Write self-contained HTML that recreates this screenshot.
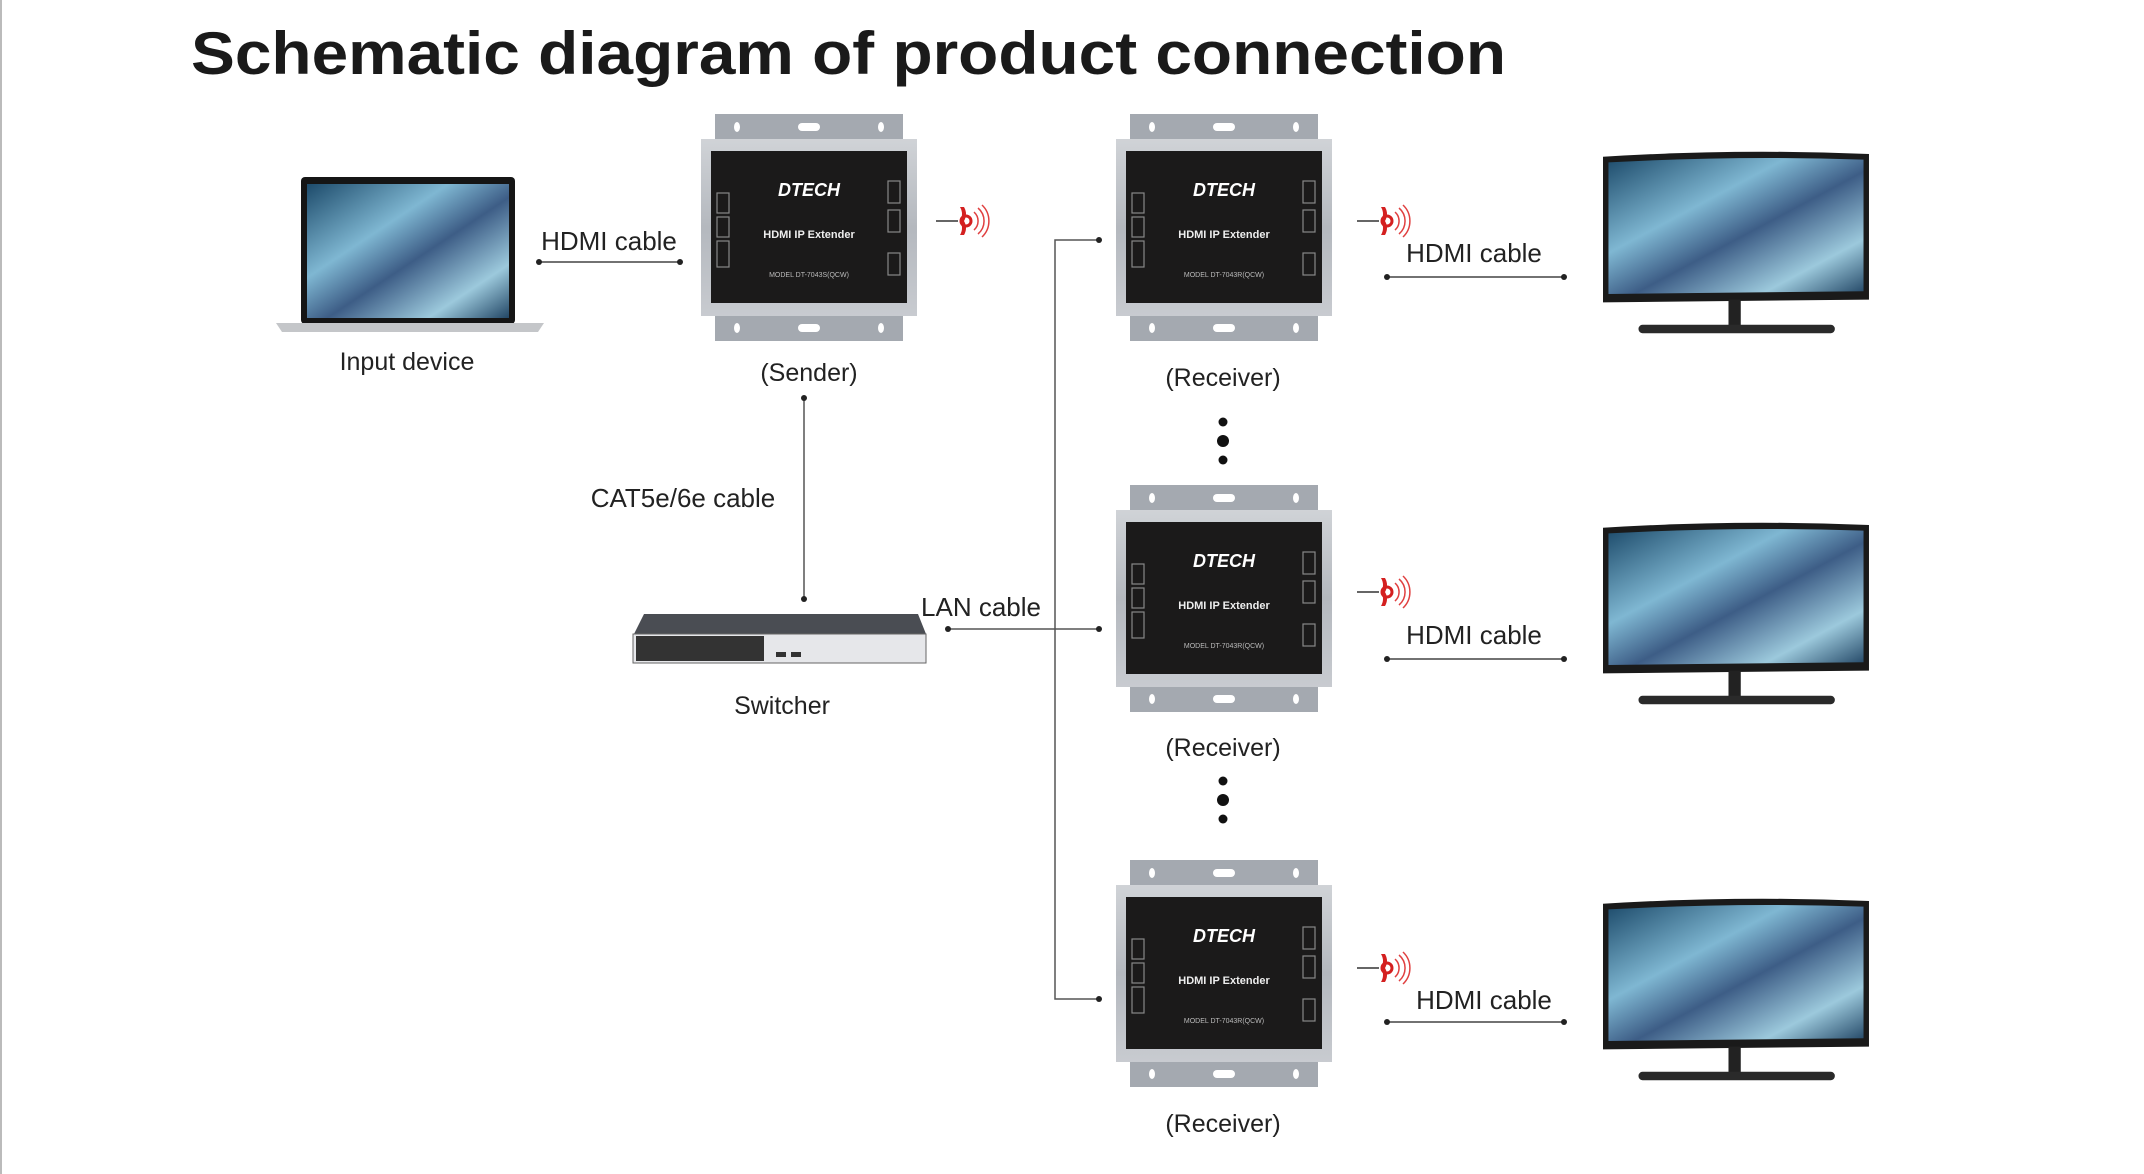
<!DOCTYPE html>
<html><head><meta charset="utf-8"><style>
html,body{margin:0;padding:0;background:#fff;}
svg{display:block;}
text{font-family:"Liberation Sans",sans-serif;}
</style></head><body>
<svg width="2144" height="1174" viewBox="0 0 2144 1174" xmlns="http://www.w3.org/2000/svg">
<defs>
<linearGradient id="scr" x1="0" y1="0" x2="1" y2="1">
<stop offset="0" stop-color="#1d4b6b"/><stop offset="0.35" stop-color="#7fb7d2"/><stop offset="0.55" stop-color="#3d5d86"/><stop offset="0.8" stop-color="#9cc9dc"/><stop offset="1" stop-color="#234766"/>
</linearGradient>
<linearGradient id="body" x1="0" y1="0" x2="0" y2="1">
<stop offset="0" stop-color="#d0d3d7"/><stop offset="0.5" stop-color="#b4b8be"/><stop offset="1" stop-color="#c8cbd0"/>
</linearGradient>
<g id="box">
<rect x="14" y="0" width="188" height="27" fill="#a4a9b0"/>
<rect x="14" y="200" width="188" height="27" fill="#a4a9b0"/>
<rect x="0" y="25" width="216" height="177" fill="url(#body)"/>
<rect x="10" y="37" width="196" height="152" fill="#1b1a1a"/>
<ellipse cx="36" cy="13" rx="3" ry="5" fill="#fff"/><ellipse cx="180" cy="13" rx="3" ry="5" fill="#fff"/><rect x="97" y="9" width="22" height="8" rx="4" fill="#fff"/>
<ellipse cx="36" cy="214" rx="3" ry="5" fill="#fff"/><ellipse cx="180" cy="214" rx="3" ry="5" fill="#fff"/><rect x="97" y="210" width="22" height="8" rx="4" fill="#fff"/>
<g fill="none" stroke="#888" stroke-width="1.2">
<rect x="16" y="79" width="12" height="20"/><rect x="16" y="103" width="12" height="20"/><rect x="16" y="127" width="12" height="26"/>
<rect x="187" y="67" width="12" height="22"/><rect x="187" y="96" width="12" height="22"/><rect x="187" y="139" width="12" height="22"/>
</g>
</g>
<g id="mon">
<path d="M0 2 Q97 -4 195 0 L195 104 L0 106 Z" fill="#1a1a1a"/>
<path d="M4 6 Q97 1 191 4 L191 98 L4 100 Z" fill="url(#scr)"/>
<rect x="92" y="104" width="9" height="22" fill="#222"/>
<rect x="26" y="122" width="144" height="6" rx="3" fill="#2a2a2a"/>
</g>
<g id="wifi">
<line x1="-30" y1="0" x2="-8" y2="0" stroke="#333" stroke-width="1.5"/>
<path d="M-6 -14 Q-2 -7 -6 0 Q-2 7 -6 14 L-2 14 Q2 7 -2 0 Q2 -7 -2 -14 Z" fill="#d42020"/>
<circle cx="0" cy="0" r="5" fill="none" stroke="#d42020" stroke-width="3"/>
<path d="M8 -9 A12 12 0 0 1 8 9 M12 -13 A17 17 0 0 1 12 13 M16 -16 A22 22 0 0 1 16 16" fill="none" stroke="#e04040" stroke-width="1.5"/>
</g>
</defs>
<line x1="1" y1="0" x2="1" y2="1174" stroke="#bbb" stroke-width="2"/>
<text x="191" y="74" font-size="60" font-weight="bold" fill="#1a1a1a" textLength="1315" lengthAdjust="spacingAndGlyphs">Schematic diagram of product connection</text>

<g transform="translate(-4,-3)">
<rect x="305" y="180" width="214" height="147" rx="4" fill="#151515"/>
<rect x="311" y="187" width="202" height="134" fill="url(#scr)"/>
<path d="M280 326 L548 326 L542 335 L286 335 Z" fill="#c4c6c9"/>
<text x="411" y="373" font-size="25" text-anchor="middle" fill="#222">Input device</text>

<text x="613" y="253" font-size="26" text-anchor="middle" fill="#222">HDMI cable</text>
<line x1="543" y1="265" x2="684" y2="265" stroke="#444" stroke-width="1.5"/>
<circle cx="543" cy="265" r="3" fill="#222"/><circle cx="684" cy="265" r="3" fill="#222"/>

<use href="#box" x="705" y="117"/>
<text x="813" y="199" font-size="18" font-weight="bold" font-style="italic" fill="#fff" text-anchor="middle">DTECH</text>
<text x="813" y="241" font-size="11" font-weight="bold" fill="#eee" text-anchor="middle">HDMI IP Extender</text>
<text x="813" y="280" font-size="7" fill="#bbb" text-anchor="middle">MODEL DT-7043S(QCW)</text>
<use href="#wifi" x="970" y="224"/>
<text x="813" y="384" font-size="25" text-anchor="middle" fill="#222">(Sender)</text>

<line x1="808" y1="401" x2="808" y2="602" stroke="#555" stroke-width="1.5"/>
<circle cx="808" cy="401" r="3" fill="#222"/><circle cx="808" cy="602" r="3" fill="#222"/>
<text x="687" y="510" font-size="26" text-anchor="middle" fill="#222">CAT5e/6e cable</text>

<path d="M648 617 L922 617 L930 637 L638 637 Z" fill="#4a4d53"/>
<rect x="637" y="637" width="293" height="29" fill="#e6e7ea" stroke="#666" stroke-width="1"/>
<rect x="640" y="639" width="128" height="25" fill="#333"/>
<rect x="780" y="655" width="10" height="5" fill="#333"/><rect x="795" y="655" width="10" height="5" fill="#333"/>
<text x="786" y="717" font-size="25" text-anchor="middle" fill="#222">Switcher</text>

<text x="985" y="619" font-size="26" text-anchor="middle" fill="#222">LAN cable</text>
<line x1="952" y1="632" x2="1103" y2="632" stroke="#555" stroke-width="1.5"/>
<circle cx="952" cy="632" r="3" fill="#222"/>
<path d="M1103 243 L1059 243 L1059 1002 L1103 1002" fill="none" stroke="#555" stroke-width="1.5"/>
<circle cx="1103" cy="243" r="3" fill="#222"/><circle cx="1103" cy="632" r="3" fill="#222"/><circle cx="1103" cy="1002" r="3" fill="#222"/>

<use href="#box" x="1120" y="117"/>
<text x="1228" y="199" font-size="18" font-weight="bold" font-style="italic" fill="#fff" text-anchor="middle">DTECH</text>
<text x="1228" y="241" font-size="11" font-weight="bold" fill="#eee" text-anchor="middle">HDMI IP Extender</text>
<text x="1228" y="280" font-size="7" fill="#bbb" text-anchor="middle">MODEL DT-7043R(QCW)</text>
<text x="1227" y="389" font-size="25" text-anchor="middle" fill="#222">(Receiver)</text>

<use href="#box" x="1120" y="488"/>
<text x="1228" y="570" font-size="18" font-weight="bold" font-style="italic" fill="#fff" text-anchor="middle">DTECH</text>
<text x="1228" y="612" font-size="11" font-weight="bold" fill="#eee" text-anchor="middle">HDMI IP Extender</text>
<text x="1228" y="651" font-size="7" fill="#bbb" text-anchor="middle">MODEL DT-7043R(QCW)</text>
<text x="1227" y="759" font-size="25" text-anchor="middle" fill="#222">(Receiver)</text>

<use href="#box" x="1120" y="863"/>
<text x="1228" y="945" font-size="18" font-weight="bold" font-style="italic" fill="#fff" text-anchor="middle">DTECH</text>
<text x="1228" y="987" font-size="11" font-weight="bold" fill="#eee" text-anchor="middle">HDMI IP Extender</text>
<text x="1228" y="1026" font-size="7" fill="#bbb" text-anchor="middle">MODEL DT-7043R(QCW)</text>
<text x="1227" y="1135" font-size="25" text-anchor="middle" fill="#222">(Receiver)</text>

<g fill="#111">
<circle cx="1227" cy="425" r="4.5"/><circle cx="1227" cy="444" r="6"/><circle cx="1227" cy="463" r="4.5"/>
<circle cx="1227" cy="784" r="4.5"/><circle cx="1227" cy="803" r="6"/><circle cx="1227" cy="822" r="4.5"/>
</g>

<use href="#wifi" x="1391" y="224"/>
<use href="#wifi" x="1391" y="595"/>
<use href="#wifi" x="1391" y="971"/>

<text x="1478" y="265" font-size="26" text-anchor="middle" fill="#222">HDMI cable</text>
<text x="1478" y="647" font-size="26" text-anchor="middle" fill="#222">HDMI cable</text>
<text x="1488" y="1012" font-size="26" text-anchor="middle" fill="#222">HDMI cable</text>
<g stroke="#444" stroke-width="1.5">
<line x1="1391" y1="280" x2="1568" y2="280"/><line x1="1391" y1="662" x2="1568" y2="662"/><line x1="1391" y1="1025" x2="1568" y2="1025"/>
</g>
<g fill="#222">
<circle cx="1391" cy="280" r="3"/><circle cx="1568" cy="280" r="3"/>
<circle cx="1391" cy="662" r="3"/><circle cx="1568" cy="662" r="3"/>
<circle cx="1391" cy="1025" r="3"/><circle cx="1568" cy="1025" r="3"/>
</g>
</g>

<use href="#mon" transform="translate(1603,154) scale(1.364,1.4)"/>
<use href="#mon" transform="translate(1603,525) scale(1.364,1.4)"/>
<use href="#mon" transform="translate(1603,901) scale(1.364,1.4)"/>
</svg>
</body></html>
